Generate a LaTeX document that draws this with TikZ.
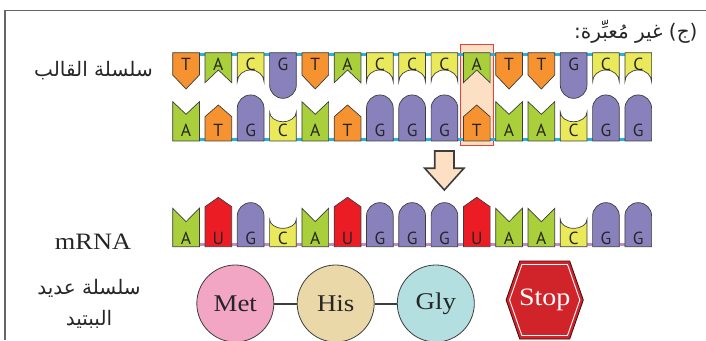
\documentclass[tikz,border=0pt]{standalone}
\usepackage{fontspec}
\newfontfamily\arabicfont[Script=Arabic]{DejaVu Sans}
\newfontfamily\basefont{PT Sans}
\newfontfamily\labelfont[FakeStretch=1.12]{Liberation Serif}
\TeXXeTstate=1

\definecolor{colT}{HTML}{F6922F}
\definecolor{colA}{HTML}{A9CF3B}
\definecolor{colC}{HTML}{E9E95A}
\definecolor{colG}{HTML}{8981BC}
\definecolor{colU}{HTML}{EC1C24}
\definecolor{strandblue}{HTML}{22B4E6}
\definecolor{rnaline}{HTML}{C38CC2}
\definecolor{edge}{HTML}{3D3D3D}
\definecolor{peach}{HTML}{FDDFC4}
\definecolor{markred}{HTML}{E8403F}
\definecolor{metpink}{HTML}{F3A5C4}
\definecolor{histan}{HTML}{EAD8A8}
\definecolor{glyblue}{HTML}{B4DFE1}
\definecolor{stopred}{HTML}{D1232A}

% outlines of one base tile, drawn from its left corner on the strand
\newcommand\chevpath[2]{(0,0) -- (0,#1) -- (13.35,#2) -- (26.7,#1) -- (26.7,0) -- cycle}
\newcommand\bumppath[2]{(0,0) -- (0,#1) arc[start angle=180, end angle=0, x radius=13.35, y radius=#2] -- (26.7,0) -- cycle}
\newcommand\dentpath[2]{(0,0) -- (0,#1) arc[start angle=180, end angle=360, x radius=13.35, y radius=#2] -- (26.7,0) -- cycle}

\tikzset{
  nuc/.style={draw=edge, line width=0.7pt},
  baselabel/.style={text=black!85, font=\basefont\fontsize{17.5}{17.5}\selectfont, inner sep=0pt, anchor=base},
  % template strand, hanging down
  topT/.pic={\filldraw[nuc,fill=colT] \chevpath{-22.3}{-36.3}; \node[baselabel] at (13.35,-17.5) {T};},
  topA/.pic={\filldraw[nuc,fill=colA] \chevpath{-30}{-17.3}; \node[baselabel] at (13.35,-17.5) {A};},
  topC/.pic={\filldraw[nuc,fill=colC] \dentpath{-29}{-11.7}; \node[baselabel] at (13.35,-17.5) {C};},
  topG/.pic={\filldraw[nuc,fill=colG] \bumppath{-32.3}{-13.35}; \node[baselabel] at (13.35,-17.5) {G};},
  % coding strand, standing up
  botT/.pic={\filldraw[nuc,fill=colT] \chevpath{24.3}{36}; \node[baselabel] at (13.35,4.3) {T};},
  botA/.pic={\filldraw[nuc,fill=colA] \chevpath{39.3}{26.7}; \node[baselabel] at (13.35,4.3) {A};},
  botC/.pic={\filldraw[nuc,fill=colC] \dentpath{29}{9.7}; \node[baselabel] at (13.35,4.3) {C};},
  botG/.pic={\filldraw[nuc,fill=colG] \bumppath{32.7}{13.35}; \node[baselabel] at (13.35,4.3) {G};},
  % mRNA
  rnaU/.pic={\filldraw[nuc,fill=colU] \chevpath{40}{49.4}; \node[baselabel] at (13.35,2.6) {U};},
  rnaA/.pic={\filldraw[nuc,fill=colA] \chevpath{38.4}{25}; \node[baselabel] at (13.35,2.6) {A};},
  rnaC/.pic={\filldraw[nuc,fill=colC] \dentpath{27.4}{9}; \node[baselabel] at (13.35,2.6) {C};},
  rnaG/.pic={\filldraw[nuc,fill=colG] \bumppath{30.7}{13.35}; \node[baselabel] at (13.35,2.6) {G};},
  amino/.style={circle, draw=edge, line width=0.8pt, minimum size=77pt, inner sep=0pt,
    font=\labelfont\fontsize{24}{24}\selectfont, text=black!85},
  bond/.style={draw=edge, line width=2pt},
  sidelabel/.style={font=\arabicfont\fontsize{20}{31}\selectfont, align=center, text=black!85},
}

\begin{document}
\begin{tikzpicture}[x=1pt, y=1pt]
  \useasboundingbox (0,0) rectangle (706,340);
  \draw[black!60, line width=1.5pt] (5,0) -- (5,329.5) -- (706,329.5);

  % mutated base pair
  \filldraw[fill=peach, draw=markred, line width=0.9pt] (460.7,194.3) rectangle (493.3,295.7);

  \draw[strandblue, line width=3pt] (172.7,285.7) -- (651.6,285.7);
  \draw[strandblue, line width=3pt] (172.7,200.8) -- (651.6,200.8);
  \draw[rnaline, line width=3pt] (172.7,95.5) -- (651.6,95.5);

  \foreach \b [count=\i from 0] in {T,A,C,G,T,A,C,C,C,A,T,T,G,C,C}
    \pic at (172.7+32.3*\i, 287.3) {top\b};
  \foreach \b [count=\i from 0] in {A,T,G,C,A,T,G,G,G,T,A,A,C,G,G}
    \pic at (172.7+32.3*\i, 199) {bot\b};
  \foreach \b [count=\i from 0] in {A,U,G,C,A,U,G,G,G,U,A,A,C,G,G}
    \pic at (172.7+32.3*\i, 93.3) {rna\b};

  \filldraw[fill=peach, draw=edge, line width=1.6pt, line join=miter]
    (434.7,189) -- (454,189) -- (454,171.7) -- (463.9,171.7) -- (444.35,150)
    -- (424.8,171.7) -- (434.7,171.7) -- cycle;

  \node[sidelabel] (tmpl) at (93.5,269) {\beginR سلسلة القالب\endR};
  \node[font=\labelfont\fontsize{23.5}{23.5}\selectfont, text=black!85, anchor=base] (rna) at (93,90.7) {mRNA};
  \node[sidelabel] (chain) at (89,36) {\beginR سلسلة عديد\endR\\ \beginR الببتيد\endR};
  \node[font=\arabicfont\fontsize{20}{20}\selectfont, anchor=east, text=black!85] (title) at (701,308)
    {\beginR (ج) غير مُعبِّرة:\endR};

  \node[amino, fill=metpink] (met) at (235.3,36.5) {Met};
  \node[amino, fill=histan] (his) at (335.7,36.5) {His};
  \node[amino, fill=glyblue] (gly) at (435.8,36.5) {Gly};
  \draw[bond] (met) -- (his);
  \draw[bond] (his) -- (gly);

  \filldraw[fill=stopred, draw=black!70!stopred, line width=0.8pt]
    (506.1,40) -- (519.7,79) -- (569.7,79) -- (583.3,40) -- (569.7,1) -- (519.7,1) -- cycle;
  \draw[white, line width=0.9pt]
    (509.6,40) -- (521.9,75.5) -- (567.5,75.5) -- (579.8,40) -- (567.5,4.5) -- (521.9,4.5) -- cycle;
  \node[font=\labelfont\fontsize{25}{25}\selectfont, text=white] (stop) at (544.7,40) {Stop};
\end{tikzpicture}
\end{document}
